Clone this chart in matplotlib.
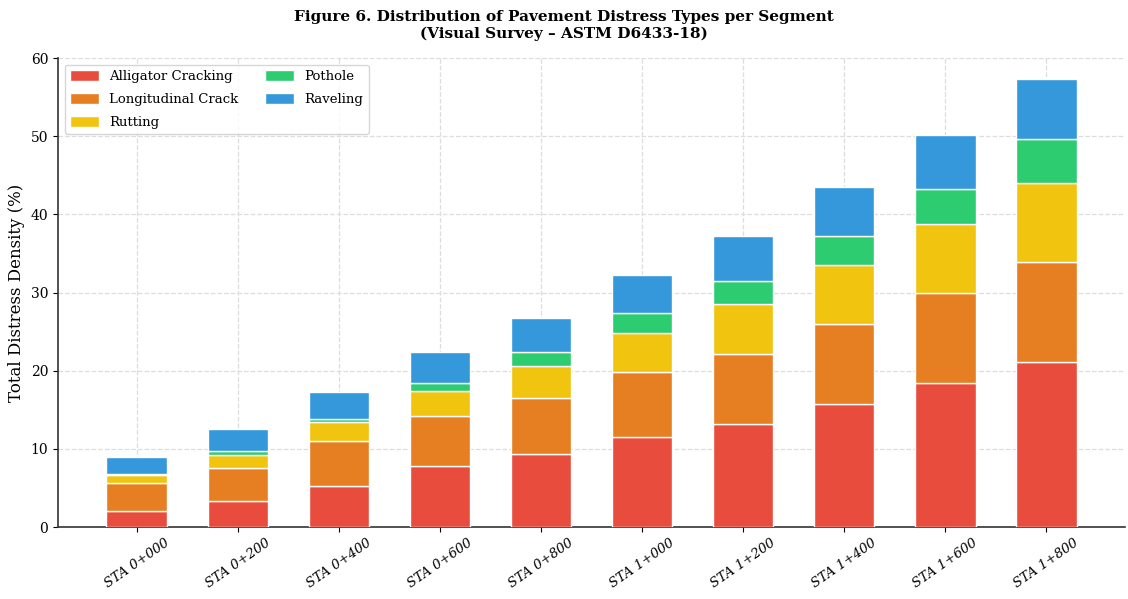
"""Figure 6: stacked bar chart of pavement distress types per segment."""

import matplotlib
matplotlib.use("Agg")
import matplotlib.pyplot as plt
import numpy as np

# データ (%)
segments = ["STA 0+000", "STA 0+200", "STA 0+400", "STA 0+600", "STA 0+800",
            "STA 1+000", "STA 1+200", "STA 1+400", "STA 1+600", "STA 1+800"]
alligator = [2.0, 3.3, 5.2, 7.8, 9.3, 11.5, 13.2, 15.7, 18.5, 21.1]
longitudinal = [3.6, 4.3, 5.8, 6.4, 7.2, 8.3, 9.0, 10.3, 11.5, 12.8]
rutting = [1.1, 1.6, 2.4, 3.2, 4.1, 5.0, 6.3, 7.5, 8.8, 10.1]
pothole = [0.1, 0.5, 0.4, 1.0, 1.8, 2.6, 3.0, 3.8, 4.5, 5.6]
raveling = [2.2, 2.8, 3.5, 4.0, 4.4, 4.9, 5.7, 6.2, 6.9, 7.7]

series = [
    ("Alligator Cracking", alligator, "#e74c3c"),
    ("Longitudinal Crack", longitudinal, "#e67e22"),
    ("Rutting", rutting, "#f1c40f"),
    ("Pothole", pothole, "#2ecc71"),
    ("Raveling", raveling, "#3498db"),
]

plt.rcParams["font.family"] = ["DejaVu Serif"]

fig = plt.figure(figsize=(11.28, 5.99), dpi=100)
ax = fig.add_axes([0.0514, 0.12, 0.946, 0.783])

x = np.arange(len(segments))
bottom = np.zeros(len(segments))
for name, vals, color in series:
    vals = np.array(vals)
    ax.bar(x, vals, 0.6, bottom=bottom, color=color, edgecolor="white",
           linewidth=1.0, label=name, zorder=3)
    bottom += vals

ax.set_ylim(0, 60)
ax.set_xticks(x)
ax.set_xticklabels(segments, rotation=35, ha="center", fontsize=9.5,
                   style="italic")
ax.tick_params(axis="y", labelsize=10)
ax.set_ylabel("Total Distress Density (%)", fontsize=12)

ax.grid(True, linestyle="--", color="#dddddd", linewidth=0.9, zorder=0)
ax.set_axisbelow(True)
for side in ("top", "right"):
    ax.spines[side].set_visible(False)
for side in ("left", "bottom"):
    ax.spines[side].set_color("#333333")
    ax.spines[side].set_linewidth(1.2)

ax.legend(loc="upper left", ncol=2, fontsize=9.5, frameon=True,
          edgecolor="#cccccc", handlelength=2.2, handleheight=0.9,
          labelspacing=0.75, columnspacing=2.0)

fig.suptitle("Figure 6. Distribution of Pavement Distress Types per Segment\n"
             "(Visual Survey – ASTM D6433-18)",
             fontsize=11, fontweight="bold", y=0.984, linespacing=1.25)

fig.savefig("out.png", dpi=100)
